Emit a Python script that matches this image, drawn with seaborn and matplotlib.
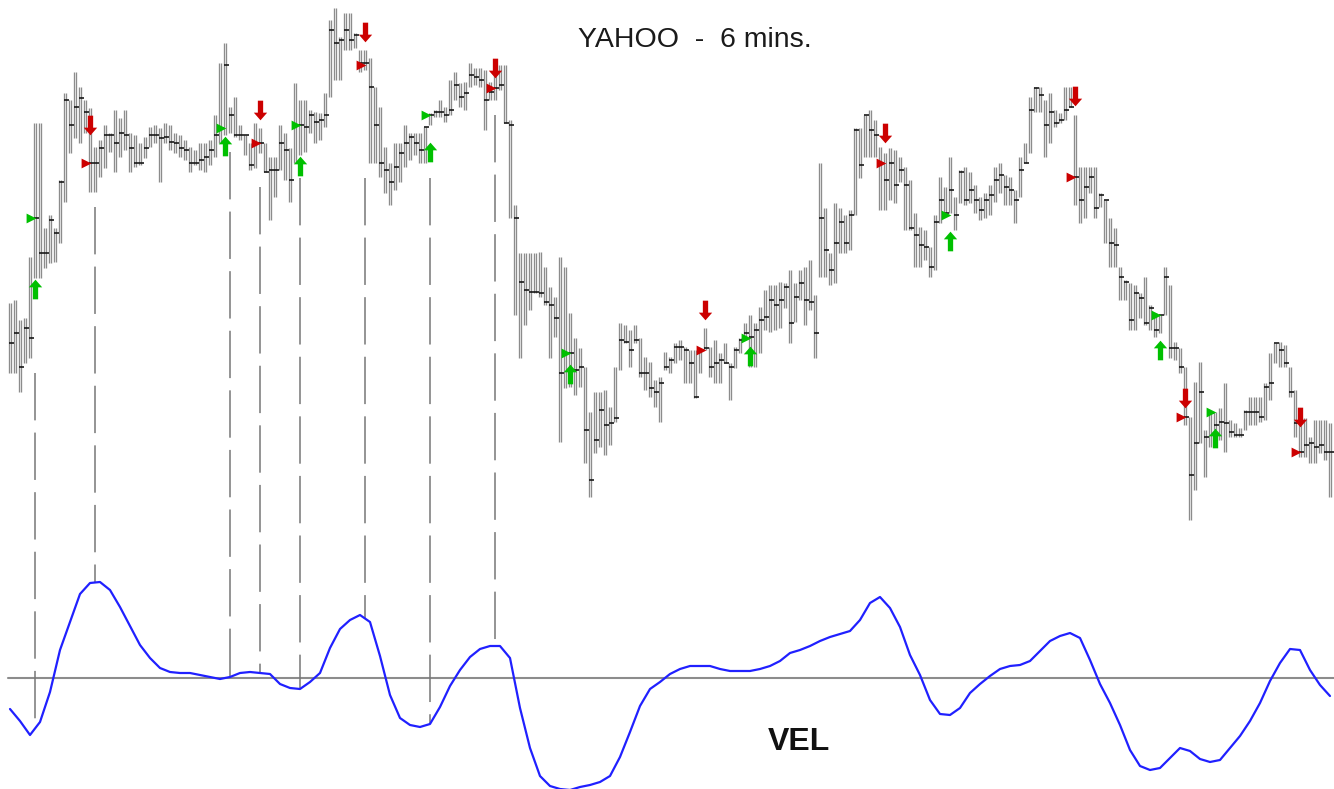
import numpy as np
import pandas as pd
import matplotlib
matplotlib.use("Agg")
import matplotlib.pyplot as plt
from matplotlib.path import Path
import seaborn as sns

# ---------------- data (price units, 6-minute bars) ----------------
high = [297,300,280,282,343,477,477,372,385,372,
        420,507,500,528,513,500,492,453,460,475,
        467,490,482,490,467,465,457,463,473,475,
        472,477,475,467,465,460,453,450,457,457,
        460,485,537,557,493,503,475,465,457,477,
        472,457,443,443,475,467,452,517,500,500,
        490,488,487,507,580,592,563,587,587,567,
        550,550,542,513,493,453,437,457,457,475,
        467,467,467,473,487,490,500,493,520,528,
        517,518,537,532,532,530,518,533,535,535,
        480,395,347,347,347,347,348,333,313,303,
        343,333,287,262,252,233,188,208,208,210,
        193,233,277,275,270,275,262,243,238,220,
        223,248,243,257,260,253,250,250,250,272,
        253,260,247,257,237,253,262,277,285,277,
        293,310,315,315,318,317,330,317,330,333,
        340,305,437,392,347,397,392,385,390,472,
        472,485,490,480,453,447,452,450,443,433,
        420,387,373,370,353,385,423,413,443,403,
        430,433,428,415,403,407,415,433,437,425,
        423,410,443,457,503,513,513,500,507,490,
        487,513,513,485,433,433,433,433,407,400,
        382,372,333,320,317,315,307,323,295,287,
        285,333,315,258,252,233,183,218,238,170,
        187,188,192,217,180,177,172,190,203,203,
        203,217,247,257,258,255,233,210,177,182,
        163,180,180,180,177]

low = [227,227,208,237,242,322,322,332,337,338,
       357,398,447,462,457,467,408,408,423,432,
       448,428,443,450,428,433,435,442,453,457,
       418,457,450,447,443,440,428,435,430,428,
       435,443,457,465,467,463,460,445,430,432,
       447,428,380,403,430,420,398,437,445,448,
       467,457,460,473,503,520,520,550,550,552,
       528,530,437,437,423,407,395,410,418,433,
       440,445,437,437,475,483,483,478,485,500,
       493,490,513,515,513,470,500,500,510,477,
       382,285,242,275,290,307,303,295,242,263,
       158,212,213,205,213,137,103,147,153,145,
       155,178,230,257,233,257,223,210,203,193,
       178,230,227,237,240,217,217,202,227,250,
       223,217,217,237,200,232,247,260,233,233,
       247,270,268,270,272,292,257,278,300,275,
       290,242,323,323,315,317,347,347,350,385,
       422,443,443,443,390,390,400,397,418,370,
       370,333,333,340,323,330,377,387,387,370,
       397,395,397,387,380,382,385,398,407,395,
       395,377,403,437,447,488,488,443,457,473,
       477,480,493,395,377,382,407,382,393,357,
       333,333,300,300,270,270,282,275,270,263,
       267,285,242,240,227,175,80,110,157,123,
       153,170,160,148,163,163,163,170,175,175,
       178,180,200,237,233,233,203,163,143,143,
       137,137,147,140,103]

close = [257,267,233,272,262,382,347,347,380,367,
         418,500,475,493,502,488,437,437,452,465,
         465,457,467,465,452,437,437,452,465,465,
         462,463,458,457,452,450,437,437,440,443,
         450,465,472,535,485,465,465,465,435,457,
         457,428,430,430,457,450,420,475,475,473,
         485,478,480,485,570,557,560,570,560,565,
         537,537,513,475,437,430,418,433,447,457,
         463,457,450,473,485,488,488,485,490,515,
         503,507,525,523,520,500,508,512,515,477,
         475,382,318,310,308,308,307,298,295,282,
         227,247,247,230,233,170,120,160,190,175,
         177,182,260,258,250,260,227,227,212,208,
         217,233,240,253,253,250,237,203,250,252,
         233,237,240,237,233,250,260,267,263,270,
         280,283,300,295,300,313,277,303,317,300,
         298,267,382,350,330,357,378,357,385,470,
         435,485,470,465,437,420,437,415,430,415,
         372,365,355,353,333,378,400,387,410,385,
         428,400,410,400,390,400,405,420,425,413,
         410,400,430,437,490,512,505,475,488,477,
         480,490,493,423,400,413,423,392,405,400,
         357,355,323,318,280,307,302,277,292,270,
         285,323,252,252,233,183,125,157,208,163,
         187,175,178,177,168,165,165,188,188,188,
         183,213,217,257,250,237,208,177,148,155,
         157,153,155,148,148]

# velocity indicator, one value every second bar
vel = [-31,-43,-57,-44,-14,28,56,84,95,96,
       88,71,52,33,20,10,6,5,5,3,
       1,-1,1,5,6,5,4,-6,-10,-11,
       -4,5,30,49,58,63,56,22,-17,-40,
       -47,-49,-46,-29,-8,8,21,29,32,32,
       20,-30,-70,-98,-108,-111,-112,-109,-107,-104,
       -98,-79,-54,-28,-11,-4,4,9,12,12,
       12,9,7,7,7,9,12,17,25,28,
       32,37,41,44,47,58,75,81,70,51,
       23,3,-22,-36,-37,-30,-15,-6,2,9,
       12,13,17,27,37,42,45,40,18,-6,
       -25,-47,-72,-88,-92,-90,-80,-70,-73,-81,
       -84,-82,-70,-58,-43,-25,-3,15,29,28,
       8,-7,-18]
vel_bar = list(range(0, 265, 2))

# trade signals: bar index, entry price, signal-mark price
buy_bar = [5, 43, 58, 84, 112, 148, 188, 230, 241]
buy_entry = [382, 472, 475, 485, 247, 262, 385, 285, 188]
buy_mark = [311, 454, 434, 448, 226, 244, 359, 250, 162]
sell_bar = [16, 50, 71, 97, 139, 175, 213, 235, 258]
sell_entry = [437, 457, 535, 512, 250, 437, 423, 183, 148]
sell_mark = [475, 490, 568, 532, 290, 467, 504, 202, 183]
# bars whose signal is traced down to the VEL turning point
traced_bar = [5, 17, 44, 50, 58, 71, 84, 97]

title = "YAHOO  -  6 mins."
vel_label = "VEL"

# ---------------- figure ----------------
sns.set_theme(style="white")
plt.rcParams['font.family'] = ['Liberation Sans', 'DejaVu Sans']

W, H = 1334, 789
fig = plt.figure(figsize=(W / 100, H / 100), dpi=100)
split = 560 / H
ax1 = fig.add_axes([0, 1 - split, 1, split])
ax2 = fig.add_axes([0, 0, 1, 1 - split])
for ax in (ax1, ax2):
    ax.set_xlim(-2, 264.8)
    ax.axis("off")
ax1.set_ylim(40, 600)
ax2.set_ylim(-111, 118)

n = len(high)
idx = np.arange(n)
# each bar is rendered as a narrow hollow bar (two gray walls) with a black close tick
half = 0.27
ax1.vlines(idx - half, low, high, colors="#8c8c8c", linewidth=0.95, zorder=2)
ax1.vlines(idx + half, low, high, colors="#8c8c8c", linewidth=0.95, zorder=2)
ax1.hlines(close, idx - half, idx + 0.72, colors="#111111", linewidth=1.15, zorder=3)

up_arrow = Path([(0, 1), (0.68, 0.22), (0.27, 0.22), (0.27, -1), (-0.27, -1),
                 (-0.27, 0.22), (-0.68, 0.22), (0, 1)],
                [Path.MOVETO] + [Path.LINETO] * 6 + [Path.CLOSEPOLY])
down_arrow = Path([(x, -y) for x, y in up_arrow.vertices], up_arrow.codes)

green, red = "#00c000", "#cc0000"
buys = pd.DataFrame({"bar": buy_bar, "entry": buy_entry, "mark": buy_mark})
sells = pd.DataFrame({"bar": sell_bar, "entry": sell_entry, "mark": sell_mark})
buys["tri_x"] = buys["bar"] - 0.8
sells["tri_x"] = sells["bar"] - 0.8

sns.scatterplot(data=buys, x="bar", y="mark", marker=up_arrow, s=200, color=green,
                linewidth=0, ax=ax1, legend=False, zorder=5)
sns.scatterplot(data=sells, x="bar", y="mark", marker=down_arrow, s=200, color=red,
                linewidth=0, ax=ax1, legend=False, zorder=5)
sns.scatterplot(data=buys, x="tri_x", y="entry", marker=">", s=50, color=green,
                linewidth=0, ax=ax1, legend=False, zorder=5)
sns.scatterplot(data=sells, x="tri_x", y="entry", marker=">", s=50, color=red,
                linewidth=0, ax=ax1, legend=False, zorder=5)

# VEL panel
ax2.axhline(0, xmin=0.006, color="#8c8c8c", linewidth=1.5, zorder=1)
sns.lineplot(x=vel_bar, y=vel, ax=ax2, color="#2020ff", linewidth=1.6, legend=False, zorder=3)

low_arr = np.array(low)
for b in traced_bar:
    top_p = low_arr[max(b - 1, 0):b + 2].min() - 15
    disp = ax1.transData.transform((b, top_p))
    v_top = ax2.transData.inverted().transform(disp)[1]
    v_end = np.interp(b, vel_bar, vel)
    ax2.plot([b, b], [v_top, v_end], color="#777777", linewidth=1.1,
             dashes=(31, 8), clip_on=False, zorder=2)

fig.text(695 / W, 1 - 47 / H, title, ha="center", va="baseline",
         fontsize=20.5, color="#1a1a1a")
fig.text(799 / W, 1 - 750 / H, vel_label, ha="center", va="baseline",
         fontsize=23, fontweight="bold", color="#111111")

fig.savefig("out.png", dpi=100)
